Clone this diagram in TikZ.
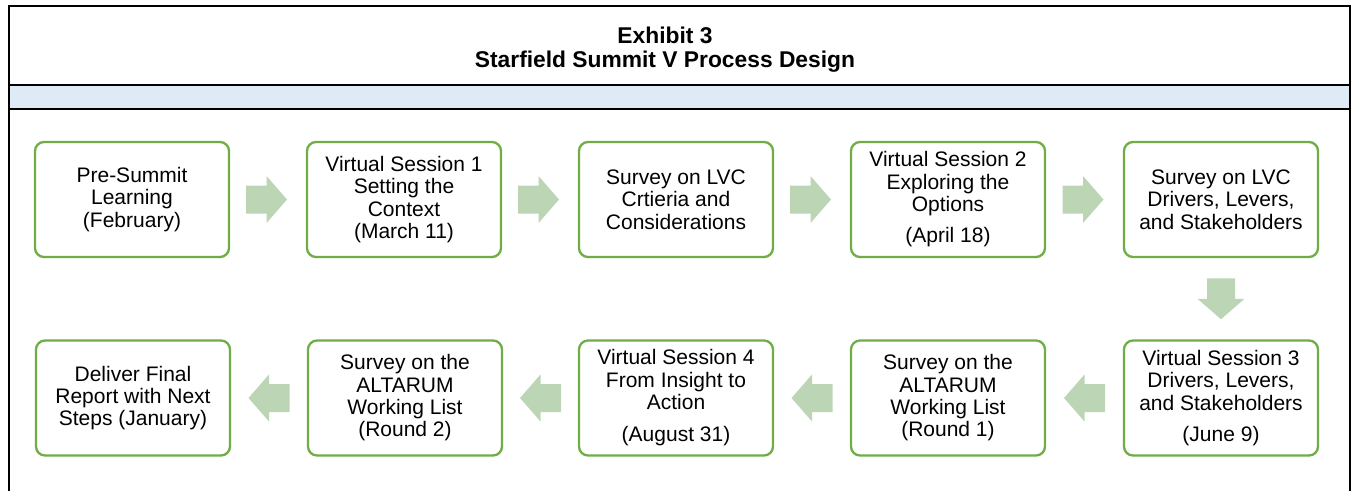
\documentclass[tikz,border=0pt]{standalone}
\usepackage{fontspec}
\setmainfont{Liberation Sans}
\usetikzlibrary{calc}
\definecolor{stepgreen}{RGB}{112,173,71}
\definecolor{arrowgreen}{RGB}{187,213,181}
\definecolor{bandblue}{RGB}{222,234,246}
\tikzset{
  stepbox/.style={draw=stepgreen, line width=2.3pt, rounded corners=9pt,
    minimum width=194pt, minimum height=115pt, align=center, inner sep=0pt,
    fill=white, font=\fontsize{21}{22.3}\selectfont},
  titletext/.style={align=center, inner sep=0pt,
    font=\fontsize{22.8}{23.5}\selectfont\bfseries},
  frameline/.style={line width=2pt, draw=black},
  blockarrow/.pic={\fill[arrowgreen] (-20.5,-14) -- (0,-14) -- (0,-23.5)
    -- (20.5,0) -- (0,23.5) -- (0,14) -- (-20.5,14) -- cycle;},
}
\begin{document}
\begin{tikzpicture}[x=1pt,y=-1pt]
\useasboundingbox (0,0) rectangle (1353,491);
% header band and outer frame
\fill[bandblue] (9,85) rectangle (1350,109);
\draw[frameline] (9,85) -- (1350,85);
\draw[frameline] (9,109) -- (1350,109);
\draw[frameline] (9,491) -- (9,6) -- (1350,6) -- (1350,491);
\node[titletext] (title) at (665,49.5) {Exhibit 3\\Starfield Summit V Process Design};
% process steps, top row left to right
\node[stepbox] (s1) at (132,199.5) {Pre-Summit\\Learning\\(February)};
\node[stepbox] (s2) at (404,199.5) {Virtual Session 1\\Setting the\\Context\\(March 11)};
\node[stepbox] (s3) at (676,199.5) {Survey on LVC\\Crtieria and\\Considerations};
\node[stepbox] (s4) at (948,199.5) {Virtual Session 2\\Exploring the\\Options\\[9pt](April 18)};
\node[stepbox] (s5) at (1221,199.5) {Survey on LVC\\Drivers, Levers,\\and Stakeholders};
% bottom row right to left
\node[stepbox] (s6) at (1221,398) {Virtual Session 3\\Drivers, Levers,\\and Stakeholders\\[9pt](June 9)};
\node[stepbox] (s7) at (948,398) {Survey on the\\ALTARUM\\Working List\\(Round 1)};
\node[stepbox] (s8) at (676,398) {Virtual Session 4\\From Insight to\\Action\\[10pt](August 31)};
\node[stepbox] (s9) at (405,398) {Survey on the\\ALTARUM\\Working List\\(Round 2)};
\node[stepbox] (s10) at (133,398) {Deliver Final\\Report with Next\\Steps (January)};
% block arrows between steps
\pic at ($(s1.east)!0.5!(s2.west)+(-1.5,0)$) {blockarrow};
\pic at ($(s2.east)!0.5!(s3.west)+(-1.5,0)$) {blockarrow};
\pic at ($(s3.east)!0.5!(s4.west)+(-1.5,0)$) {blockarrow};
\pic at ($(s4.east)!0.5!(s5.west)+(-1.5,0)$) {blockarrow};
\pic[rotate=-90] at ($(s5.south)!0.5!(s6.north)$) {blockarrow};
\pic[rotate=180] at ($(s6.west)!0.5!(s7.east)$) {blockarrow};
\pic[rotate=180] at ($(s7.west)!0.5!(s8.east)$) {blockarrow};
\pic[rotate=180] at ($(s8.west)!0.5!(s9.east)$) {blockarrow};
\pic[rotate=180] at ($(s9.west)!0.5!(s10.east)$) {blockarrow};
\end{tikzpicture}
\end{document}
